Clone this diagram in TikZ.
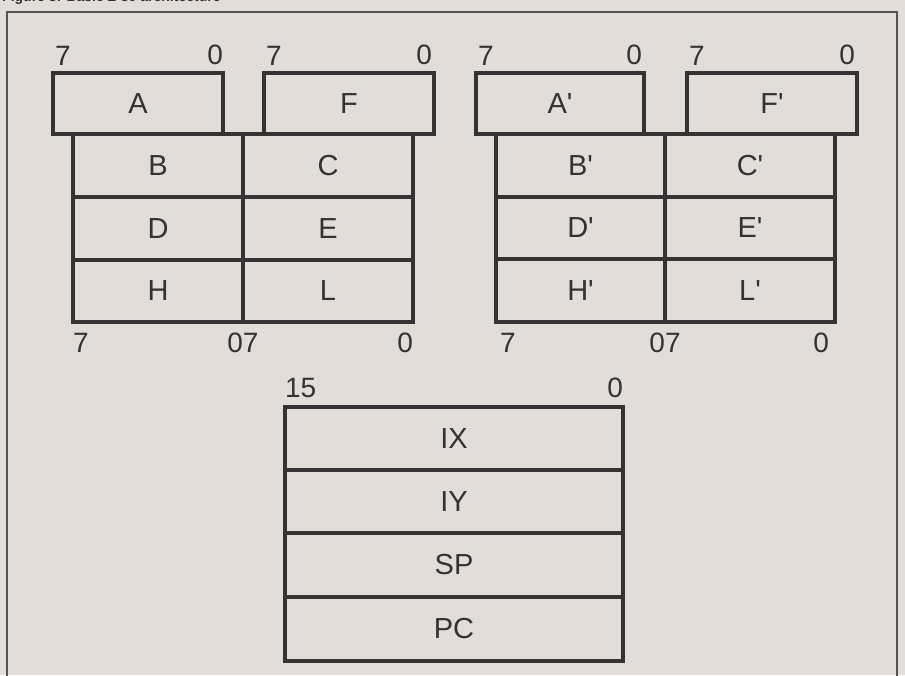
\documentclass[tikz,border=0pt]{standalone}
\usepackage{fontspec}
\setmainfont{Liberation Sans}
\definecolor{paper}{RGB}{226,221,216}
\definecolor{ink}{RGB}{52,50,50}
\definecolor{frame}{RGB}{85,82,82}
\newcommand{\pr}{\textquotesingle}
\tikzset{
  regbox/.style={draw=ink, line width=3.2pt, rectangle, inner sep=0pt, outer sep=0pt,
                 text=ink, font=\fontsize{29}{29}\selectfont},
  bitlbl/.style={inner sep=0pt, outer sep=0pt, text=ink, font=\fontsize{28}{28}\selectfont},
  caption/.style={inner sep=0pt, text=ink, font=\bfseries\fontsize{14}{14}\selectfont, anchor=base west}
}
\begin{document}
\begin{tikzpicture}[x=1pt,y=-1pt]
\useasboundingbox (0,0) rectangle (905,675);
\clip (0,0) rectangle (905,675);
\fill[paper] (0,0) rectangle (905,675);
% cut-off caption (only its lower edge shows, as in the reference)
\node[caption] (cap) at (2,1.5) {Figure 3: Basic Z-80 architecture};
% outer frame (bottom lies beyond the picture)
\draw[frame, line width=1.8pt] (7,690) -- (7,12) -- (897,12) -- (897,690);

% ---------- main register set ----------
\node[regbox, minimum width=170pt, minimum height=63pt] (B) at (158,165.5) {B};
\node[regbox, minimum width=170pt, minimum height=63pt] (C) at (328,165.5) {C};
\node[regbox, minimum width=170pt, minimum height=63pt] (D) at (158,228.5) {D};
\node[regbox, minimum width=170pt, minimum height=63pt] (E) at (328,228.5) {E};
\node[regbox, minimum width=170pt, minimum height=62pt] (H) at (158,291) {H};
\node[regbox, minimum width=170pt, minimum height=62pt] (L) at (328,291) {L};
\node[regbox, minimum width=170pt, minimum height=61pt, fill=paper] (A) at (138,103.5) {A};
\node[regbox, minimum width=170pt, minimum height=61pt, fill=paper] (F) at (349,103.5) {F};

\node[bitlbl, anchor=south west] (a7) at ([xshift=2pt,yshift=8pt]A.north west) {7};
\node[bitlbl, anchor=south east] (a0) at ([yshift=8pt]A.north east) {0};
\node[bitlbl, anchor=south west] (f7) at ([xshift=2pt,yshift=8pt]F.north west) {7};
\node[bitlbl, anchor=south east] (f0) at ([xshift=-2pt,yshift=8pt]F.north east) {0};
\node[bitlbl, anchor=north west] (h7) at ([yshift=-11pt]H.south west) {7};
\node[bitlbl, anchor=north] (hl07) at ([yshift=-11pt]H.south east) {07};
\node[bitlbl, anchor=north east] (l0) at ([yshift=-11pt]L.south east) {0};

% ---------- alternate register set ----------
\node[regbox, minimum width=169pt, minimum height=63pt] (Bp) at (580.5,165.5) {B\pr};
\node[regbox, minimum width=170pt, minimum height=63pt] (Cp) at (750,165.5) {C\pr};
\node[regbox, minimum width=169pt, minimum height=62pt] (Dp) at (580.5,228) {D\pr};
\node[regbox, minimum width=170pt, minimum height=62pt] (Ep) at (750,228) {E\pr};
\node[regbox, minimum width=169pt, minimum height=63pt] (Hp) at (580.5,290.5) {H\pr};
\node[regbox, minimum width=170pt, minimum height=63pt] (Lp) at (750,290.5) {L\pr};
\node[regbox, minimum width=168pt, minimum height=61pt, fill=paper] (Ap) at (560,103.5) {A\pr};
\node[regbox, minimum width=170pt, minimum height=61pt, fill=paper] (Fp) at (772,103.5) {F\pr};

\node[bitlbl, anchor=south west] (ap7) at ([xshift=2pt,yshift=8pt]Ap.north west) {7};
\node[bitlbl, anchor=south east] (ap0) at ([xshift=-2pt,yshift=8pt]Ap.north east) {0};
\node[bitlbl, anchor=south west] (fp7) at ([xshift=2pt,yshift=8pt]Fp.north west) {7};
\node[bitlbl, anchor=south east] (fp0) at ([xshift=-2pt,yshift=8pt]Fp.north east) {0};
\node[bitlbl, anchor=north west] (hp7) at ([xshift=4pt,yshift=-11pt]Hp.south west) {7};
\node[bitlbl, anchor=north] (hlp07) at ([yshift=-11pt]Hp.south east) {07};
\node[bitlbl, anchor=north east] (lp0) at ([xshift=-6pt,yshift=-11pt]Lp.south east) {0};

% ---------- 16-bit registers ----------
\node[regbox, minimum width=338pt, minimum height=63pt] (IX) at (454,438.5) {IX};
\node[regbox, minimum width=338pt, minimum height=63pt] (IY) at (454,501.5) {IY};
\node[regbox, minimum width=338pt, minimum height=64pt] (SP) at (454,565) {SP};
\node[regbox, minimum width=338pt, minimum height=64pt] (PC) at (454,629) {PC};

\node[bitlbl, anchor=south west] (i15) at ([yshift=9pt]IX.north west) {15};
\node[bitlbl, anchor=south east] (i0) at ([yshift=9pt]IX.north east) {0};
\end{tikzpicture}
\end{document}
